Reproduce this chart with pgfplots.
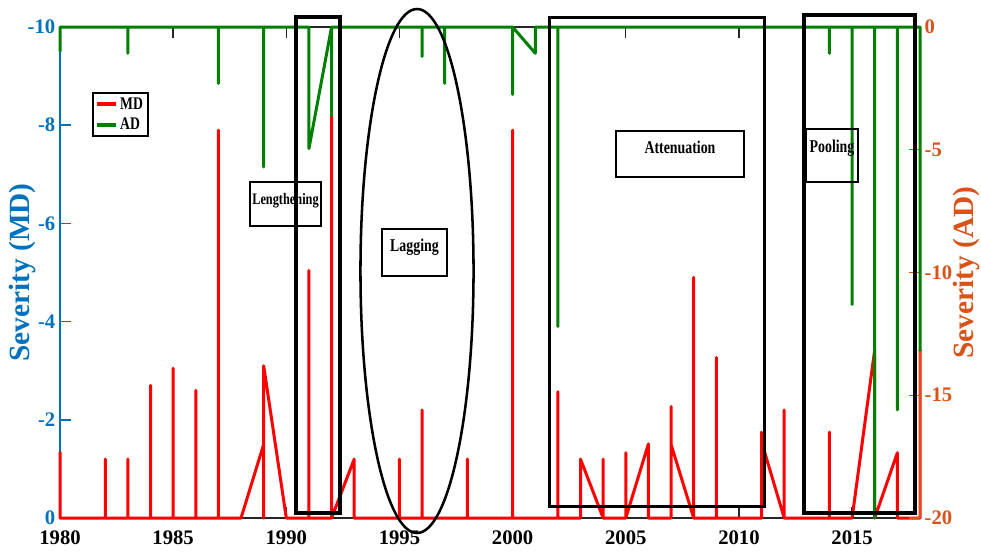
\documentclass[border=0pt]{standalone}
\usepackage{fontspec}
\setmainfont{Liberation Serif}
\newfontfamily\condfont[FakeStretch=0.77]{Liberation Serif}
\usepackage{pgfplots}
\pgfplotsset{compat=1.18}
\definecolor{mdblue}{rgb}{0,0.447,0.741}
\definecolor{adorange}{rgb}{0.85,0.325,0.098}
\definecolor{adgreen}{rgb}{0,0.5,0}
\definecolor{axgray}{rgb}{0.15,0.15,0.15}
\begin{document}
\begin{tikzpicture}
\begin{axis}[
  name=main,
  at={(45pt,-388.5pt)}, anchor=south west,
  scale only axis, width=645pt, height=368.25pt,
  xmin=1980, xmax=2018, ymin=-10, ymax=0, y dir=reverse,
  axis x line*=box, axis y line*=left,
  x axis line style={axgray, line width=1pt},
  y axis line style={mdblue, line width=1.1pt},
  xtick={1980,1985,...,2015}, ytick={-10,-8,...,0},
  xticklabel style={/pgf/number format/1000 sep={}},
  /pgf/number format/assume math mode=true,
  tick align=inside, major tick length=8pt,
  x tick style={axgray, line width=1pt},
  y tick style={mdblue, line width=1.1pt},
  x tick label style={font=\fontsize{15.5}{17}\selectfont\bfseries, text=black, yshift=-6pt},
  y tick label style={font=\fontsize{15.5}{17}\selectfont\bfseries, text=mdblue},
  ylabel={Severity (MD)},
  ylabel style={at={(rel axis cs:0,0.5)}, anchor=center, rotate=0, yshift=28.5pt,
    font=\fontsize{22}{24}\selectfont\bfseries, text=mdblue},
  clip=false,
]
\addplot[red, line width=2.25pt, line join=round] coordinates {
 (1980,-1.35) (1980,0) (1982,0) (1982,-1.2) (1982,0) (1983,0) (1983,-1.2) (1983,0)
 (1984,0) (1984,-2.7) (1984,0) (1985,0) (1985,-3.05) (1985,0) (1986,0) (1986,-2.6) (1986,0)
 (1987,0) (1987,-7.9) (1987,0) (1988,0) (1989,-1.5) (1989,0) (1989,-3.1) (1990,0)
 (1991,0) (1991,-5.04) (1991,0) (1992,0) (1992,-8.2) (1992,0) (1993,-1.2) (1993,0)
 (1995,0) (1995,-1.2) (1995,0) (1996,0) (1996,-2.2) (1996,0) (1998,0) (1998,-1.2) (1998,0)
 (2000,0) (2000,-7.9) (2000,0) (2002,0) (2002,-2.57) (2002,0) (2003,0) (2003,-1.2) (2004,0)
 (2004,-1.2) (2004,0) (2005,0) (2005,-1.33) (2005,0) (2006,-1.51) (2006,0)
 (2007,0) (2007,-2.27) (2007,-1.5) (2008,0) (2008,-4.9) (2008,0) (2009,0) (2009,-3.27) (2009,0)
 (2011,0) (2011,-1.75) (2011,-1.55) (2012,0) (2012,-2.2) (2012,0) (2014,0) (2014,-1.75) (2014,0)
 (2015,0) (2016,-3.43) (2016,0) (2017,-1.33) (2017,0) (2018,0) (2018,-3.43)
};
\end{axis}
\begin{axis}[
  at={(45pt,-388.5pt)}, anchor=south west,
  scale only axis, width=645pt, height=368.25pt,
  xmin=1980, xmax=2018, ymin=-20, ymax=0,
  axis x line=none, axis y line*=right,
  y axis line style={adorange, line width=1.1pt},
  ytick={-20,-15,...,0},
  /pgf/number format/assume math mode=true,
  tick align=inside, major tick length=8pt,
  y tick style={adorange, line width=1.1pt},
  y tick label style={font=\fontsize{15.5}{17}\selectfont\bfseries, text=adorange},
  ylabel={Severity (AD)},
  ylabel style={at={(rel axis cs:1,0.5)}, anchor=center, rotate=0, yshift=-35pt,
    font=\fontsize{22}{24}\selectfont\bfseries, text=adorange},
  clip=false,
  legend style={at={(0.037,0.868)}, anchor=north west, draw=black, line width=1.5pt,
    font=\condfont\bfseries\fontsize{13.3}{15}\selectfont, inner sep=2pt,
    row sep=2pt, nodes={inner sep=1.5pt}},
  legend cell align=left,
  legend image code/.code={\draw[#1,line width=3pt] (0pt,0pt) -- (14pt,0pt);},
]
\addlegendimage{red}
\addlegendentry{MD}
\addplot[adgreen, line width=2.25pt, line join=round] coordinates {
 (1980,-1.0) (1980,0) (1983,0) (1983,-1.07) (1983,0) (1987,0) (1987,-2.3) (1987,0)
 (1989,0) (1989,-5.7) (1989,0) (1991,0) (1991,-4.95) (1992,0) (1992,-3.6) (1992,0)
 (1996,0) (1996,-1.2) (1996,0) (1997,0) (1997,-2.3) (1997,0)
 (2000,0) (2000,-2.75) (2000,0) (2001,-1.07) (2001,0) (2002,0) (2002,-12.2) (2002,0)
 (2014,0) (2014,-1.07) (2014,0) (2015,0) (2015,-11.3) (2015,0) (2016,0) (2016,-20) (2016,0)
 (2017,0) (2017,-15.6) (2017,0) (2018,0) (2018,-13.2)
};
\addlegendentry{AD}
\end{axis}
\begin{scope}[x=0.75pt, y=-0.75pt]
 \draw[line width=1.6pt] (250,182) rectangle (321,226);
 \node[anchor=base, inner sep=0pt, font=\condfont\bfseries\fontsize{12}{13}\selectfont] at (285.5,204) {Lengthening};
 \draw[line width=3pt] (296,17) rectangle (340,513);
 \draw[line width=1.9pt] (417,271) ellipse [x radius=42.4pt, y radius=196.5pt];
 \draw[line width=1.5pt] (382,229) rectangle (447,276);
 \node[anchor=base, inner sep=0pt, font=\condfont\bfseries\fontsize{13.5}{15}\selectfont] at (414.5,251) {Lagging};
 \draw[line width=2.25pt] (549,17) rectangle (764,506);
 \draw[line width=1.5pt] (616,131) rectangle (744,177);
 \node[anchor=base, inner sep=0pt, font=\condfont\bfseries\fontsize{13.5}{15}\selectfont] at (680,153) {Attenuation};
 \draw[line width=3pt] (804,15) rectangle (915,513);
 \draw[line width=1.8pt] (806,129) rectangle (858,182);
 \node[anchor=base, inner sep=0pt, font=\condfont\bfseries\fontsize{13.5}{15}\selectfont] at (832,152) {Pooling};
\end{scope}
\pgfresetboundingbox
\path (0,0) rectangle (735.75pt,-417.75pt);
\end{tikzpicture}
\end{document}
